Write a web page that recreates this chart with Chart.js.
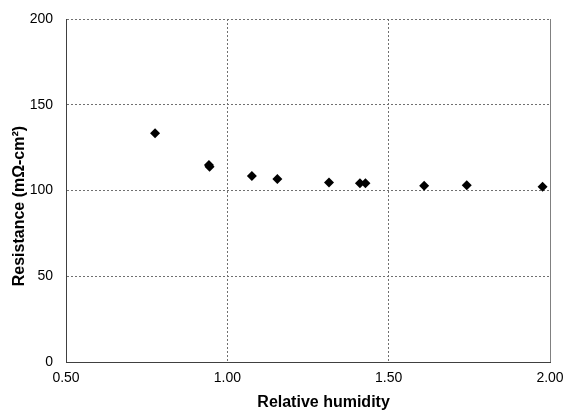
<!DOCTYPE html>
<html lang="en">
<head>
  <meta charset="UTF-8">
  <title>Resistance vs relative humidity</title>
  <script src="https://cdn.jsdelivr.net/npm/chart.js"></script>
  <style>
    html, body {
      margin: 0;
      padding: 0;
      background: #fff;
    }
    .chart-box {
      width: 563px;
      height: 411px;
      position: relative;
    }
  </style>
</head>
<body>
  <div class="chart-box">
    <canvas id="chartResistance"></canvas>
  </div>

<script>
  // values
  const humidity   = [0.776, 0.943, 0.945, 1.076, 1.155, 1.315, 1.411, 1.428, 1.610, 1.742, 1.977];
  const resistance = [133.4, 114.8, 113.8, 108.5, 106.7, 104.6, 104.3, 104.3, 102.8, 103.1, 102.2];

  const xTicks = [0.5, 1.0, 1.5, 2.0];
  const yTicks = [0, 50, 100, 150, 200];

  const xTitle = '       Relative humidity';
  const yTitle = 'Resistance (m\u03A9-cm\u00B2)       ';

  const points = humidity.map((x, i) => ({ x: x, y: resistance[i] }));

  // solid grey right edge of the plot frame
  const frameEdge = {
    id: 'frameEdge',
    afterDraw(chart) {
      const { ctx, chartArea } = chart;
      ctx.save();
      ctx.strokeStyle = '#808080';
      ctx.lineWidth = 1;
      ctx.beginPath();
      ctx.moveTo(Math.round(chartArea.right) + 0.5, chartArea.top);
      ctx.lineTo(Math.round(chartArea.right) + 0.5, chartArea.bottom);
      ctx.stroke();
      ctx.restore();
    }
  };

  const ctx = document.getElementById('chartResistance').getContext('2d');
  new Chart(ctx, {
    type: 'scatter',
    data: {
      datasets: [{
        label: 'Resistance',
        data: points,
        pointStyle: 'rectRot',
        pointRadius: 5,
        pointHoverRadius: 5,
        backgroundColor: '#000',
        borderColor: '#000',
        borderWidth: 0
      }]
    },
    options: {
      responsive: true,
      maintainAspectRatio: false,
      animation: false,
      layout: { padding: { top: 19, right: 13, left: 0, bottom: 0 } },
      plugins: {
        legend: { display: false },
        tooltip: { enabled: false }
      },
      scales: {
        x: {
          type: 'linear',
          min: 0.5,
          max: 2.0,
          afterBuildTicks: s => { s.ticks = xTicks.map(v => ({ value: v })); },
          afterFit: s => { s.height = 49; s.paddingRight = 0; s.paddingLeft = 0; },
          ticks: {
            color: '#000',
            padding: 8,
            font: { family: 'Liberation Sans, Arial, sans-serif', size: 14 },
            callback: v => Number(v).toFixed(2)
          },
          grid: { color: '#707070', drawTicks: false },
          border: { display: true, color: '#404040', width: 1, dash: [2, 2] },
          title: {
            display: true,
            text: xTitle,
            color: '#000',
            padding: { top: 0, bottom: 0 },
            font: { family: 'Liberation Sans, Arial, sans-serif', size: 16, weight: 'bold', lineHeight: 1 }
          }
        },
        y: {
          min: 0,
          max: 200,
          afterBuildTicks: s => { s.ticks = yTicks.map(v => ({ value: v })); },
          afterFit: s => { s.width = 66; s.paddingTop = 0; s.paddingBottom = 0; },
          ticks: {
            color: '#000',
            padding: 13,
            font: { family: 'Liberation Sans, Arial, sans-serif', size: 14 }
          },
          grid: { color: '#707070', drawTicks: false },
          border: { display: true, color: '#404040', width: 1, dash: [2, 2] },
          title: {
            display: true,
            text: yTitle,
            color: '#000',
            padding: { top: 12, bottom: 0 },
            font: { family: 'Liberation Sans, Arial, sans-serif', size: 16, weight: 'bold', lineHeight: 1 }
          }
        }
      }
    },
    plugins: [frameEdge]
  });
</script>
</body>
</html>
